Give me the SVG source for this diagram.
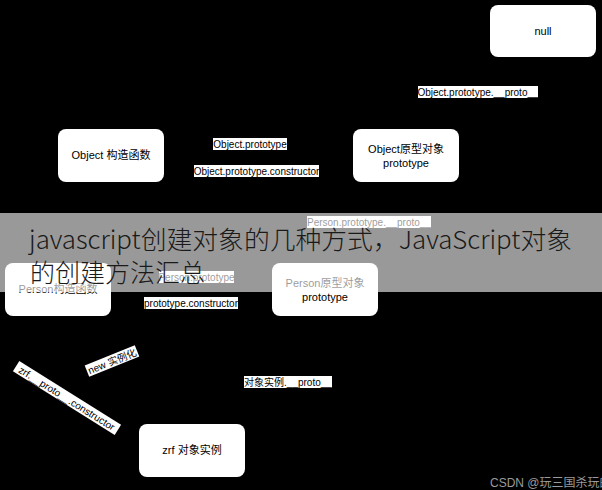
<svg xmlns="http://www.w3.org/2000/svg" width="602" height="490" viewBox="0 0 602 490">
<defs>
<style>
.node rect{fill:#fff;stroke:none}
.nt{font-family:"Liberation Sans","Noto Sans CJK SC",sans-serif;font-size:11px;fill:#000;text-anchor:middle}
.lb rect{fill:#fff}
.lb text{font-family:"Liberation Sans","Noto Sans CJK SC",sans-serif;font-size:10px;fill:#000;text-anchor:middle}
.edge{fill:none;stroke:#000;stroke-width:1}
.banner{font-family:"Noto Sans CJK SC",sans-serif;font-weight:300;font-size:25px;fill:#1a1a1a}
</style>
<marker id="arr" viewBox="0 0 10 10" refX="9" refY="5" markerWidth="7" markerHeight="7" orient="auto"><path d="M0,0L10,5L0,10z" fill="#000"/></marker>
</defs>
<rect width="602" height="490" fill="#000"/>
<g id="connectors">
<path class="edge" marker-end="url(#arr)" d="M164,144H353"/>
<path class="edge" marker-end="url(#arr)" d="M353,171H164"/>
<path class="edge" marker-end="url(#arr)" d="M406,129L543,57"/>
<path class="edge" marker-end="url(#arr)" d="M325,263L406,182"/>
<path class="edge" marker-end="url(#arr)" d="M111,277H272"/>
<path class="edge" marker-end="url(#arr)" d="M272,303H111"/>
<path class="edge" marker-end="url(#arr)" d="M139,440L60,316"/>
<path class="edge" marker-end="url(#arr)" d="M192,424L325,316"/>
</g>
<g id="labels">
<g class="lb"><rect x="418" y="86" width="120" height="12"/><text x="478" y="96">Object.prototype.__proto__</text></g>
<g class="lb"><rect x="213" y="138" width="74" height="12"/><text x="250" y="148">Object.prototype</text></g>
<g class="lb"><rect x="194" y="165" width="125" height="12"/><text x="256.5" y="175">Object.prototype.constructor</text></g>
<g class="lb"><rect x="307" y="216" width="124" height="12"/><text x="369" y="226">Person.prototype.__proto__</text></g>
<g class="lb"><rect x="159" y="271" width="75" height="12"/><text x="196.5" y="281">Person.prototype</text></g>
<g class="lb"><rect x="144" y="297" width="94" height="12"/><text x="191" y="307">prototype.constructor</text></g>
<g class="lb"><rect x="244" y="376" width="88" height="12"/><text x="288" y="386">对象实例.__proto__</text></g>
<g class="lb" transform="translate(112,361) rotate(-22)"><rect x="-27" y="-6" width="54" height="12"/><text x="0" y="4">new 实例化</text></g>
<g class="lb" transform="translate(67,398) rotate(32)"><rect x="-60" y="-6" width="120" height="12"/><text x="0" y="4">zrf.__proto__.constructor</text></g>
</g>
<g id="null" class="node"><rect x="490" y="5" width="106" height="52" rx="8"/><text class="nt" x="543" y="35">null</text></g>
<g id="object-ctor" class="node"><rect x="58" y="129" width="106" height="53" rx="8"/><text class="nt" x="111" y="159">Object 构造函数</text></g>
<g id="object-proto" class="node"><rect x="353" y="129" width="106" height="53" rx="8"/><text class="nt" x="406" y="153">Object原型对象</text><text class="nt" x="406" y="167">prototype</text></g>
<g id="person-ctor" class="node"><rect x="5" y="263" width="106" height="53" rx="8"/><text class="nt" x="58" y="293">Person构造函数</text></g>
<g id="person-proto" class="node"><rect x="272" y="263" width="106" height="53" rx="8"/><text class="nt" x="325" y="287">Person原型对象</text><text class="nt" x="325" y="301">prototype</text></g>
<g id="zrf" class="node"><rect x="139" y="424" width="106" height="53" rx="8"/><text class="nt" x="192" y="454">zrf 对象实例</text></g>
<rect x="0" y="213" width="602" height="79" fill="#fff" fill-opacity="0.6"/>
<text class="banner" x="29" y="249" textLength="543" lengthAdjust="spacingAndGlyphs">javascript创建对象的几种方式，JavaScript对象</text>
<text class="banner" x="30" y="282">的创建方法汇总</text>
<text x="490" y="487" font-family="Liberation Sans,Noto Sans CJK SC,sans-serif" font-size="12" fill="#9a9a9a">CSDN @玩三国杀玩的</text>
</svg>
